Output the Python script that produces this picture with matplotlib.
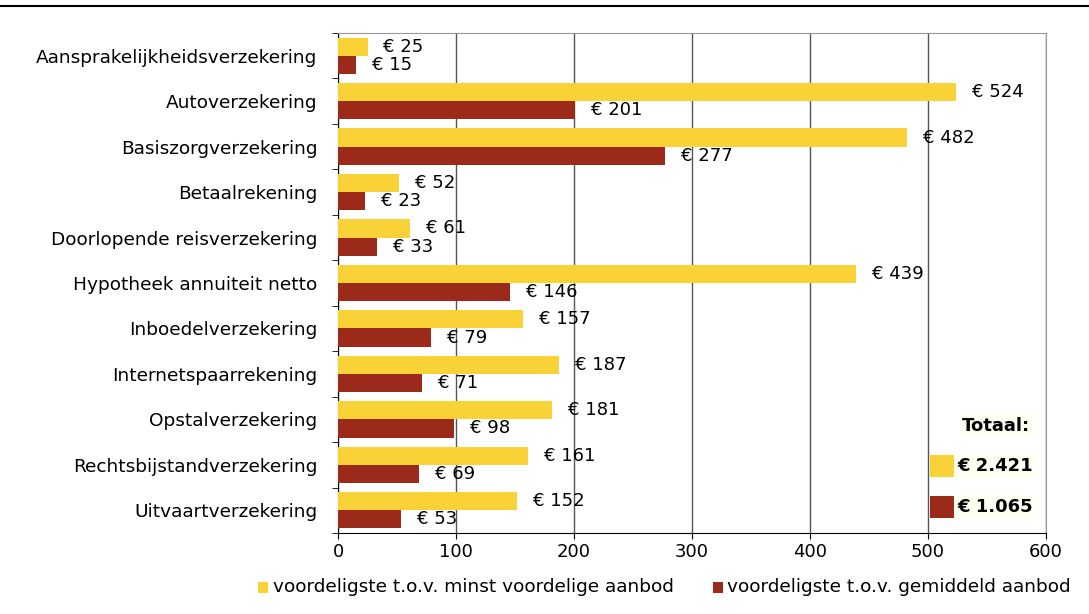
import numpy as np
import matplotlib
matplotlib.use('Agg')
import matplotlib.pyplot as plt
from matplotlib.patches import Rectangle

categories = ['Aansprakelijkheidsverzekering', 'Autoverzekering', 'Basiszorgverzekering',
              'Betaalrekening', 'Doorlopende reisverzekering', 'Hypotheek annuiteit netto',
              'Inboedelverzekering', 'Internetspaarrekening', 'Opstalverzekering',
              'Rechtsbijstandverzekering', 'Uitvaartverzekering']
minst = [25, 524, 482, 52, 61, 439, 157, 187, 181, 161, 152]
gemiddeld = [15, 201, 277, 23, 33, 146, 79, 71, 98, 69, 53]
legend_labels = ['voordeligste t.o.v. minst voordelige aanbod',
                 'voordeligste t.o.v. gemiddeld aanbod']
totals = ['€ 2.421', '€ 1.065']

yellow = '#F9D237'
red = '#9B2A1A'

plt.rcParams['font.family'] = ['DejaVu Sans']

fig = plt.figure(figsize=(10.89, 6.14), dpi=100)
ax = fig.add_axes([338 / 1089, 1 - 533 / 614, (1046 - 338) / 1089, (533 - 33) / 614])

y = np.arange(len(categories))
h = 0.4
ax.barh(y - h / 2, minst, height=h, color=yellow, zorder=3)
ax.barh(y + h / 2, gemiddeld, height=h, color=red, zorder=3)

for i in range(len(categories)):
    ax.annotate('€ %d' % minst[i], (minst[i], y[i] - h / 2), xytext=(11.5, 0),
                textcoords='offset points', va='center', ha='left', fontsize=13, zorder=4)
    ax.annotate('€ %d' % gemiddeld[i], (gemiddeld[i], y[i] + h / 2), xytext=(11.5, 0),
                textcoords='offset points', va='center', ha='left', fontsize=13, zorder=4)

ax.set_xlim(0, 600)
ax.set_ylim(len(categories) - 0.5, -0.5)
ax.set_xticks(range(0, 601, 100))
ax.tick_params(axis='x', labelsize=13, length=4, direction='out')
ax.set_yticks(y)
ax.set_yticklabels(categories, fontsize=13.3)
ax.set_yticks(np.arange(-0.5, len(categories), 1), minor=True)
ax.tick_params(axis='y', which='major', length=0, pad=15)
ax.tick_params(axis='y', which='minor', length=4, direction='out')
ax.xaxis.grid(True, color='#555555', linewidth=1, zorder=0)
ax.set_axisbelow(True)
for s in ['top', 'right']:
    ax.spines[s].set_color('#999999')
ax.spines['left'].set_color('black')
ax.spines['bottom'].set_color('black')

# totals box
bg = '#FFFFF2'
fig.text(1030 / 1089, 1 - 426 / 614, 'Totaal:', ha='right', va='center', fontsize=13,
         fontweight='bold', bbox=dict(facecolor=bg, edgecolor='none', pad=2))
for k, (t, c) in enumerate(zip(totals, [yellow, red])):
    yy = 466 + k * 41
    fig.text(957 / 1089, 1 - yy / 614, t, ha='left', va='center', fontsize=13,
             fontweight='bold', bbox=dict(facecolor=bg, edgecolor='none', pad=2))
    fig.patches.append(Rectangle((930 / 1089, 1 - (yy + 11) / 614), 25 / 1089, 22 / 614,
                                 transform=fig.transFigure, facecolor=c, edgecolor='none'))

# legend
for lx, tx, lab, c in [(258, 273, legend_labels[0], yellow), (713, 727, legend_labels[1], red)]:
    fig.patches.append(Rectangle((lx / 1089, 1 - 593 / 614), 10 / 1089, 11 / 614,
                                 transform=fig.transFigure, facecolor=c, edgecolor='none'))
    fig.text(tx / 1089, 1 - 587 / 614, lab, ha='left', va='center', fontsize=13.3)

# top line
fig.add_artist(plt.Line2D([0, 1], [1 - 6 / 614, 1 - 6 / 614], color='black', linewidth=1.5,
                          transform=fig.transFigure))

fig.savefig('out.png', dpi=100)
